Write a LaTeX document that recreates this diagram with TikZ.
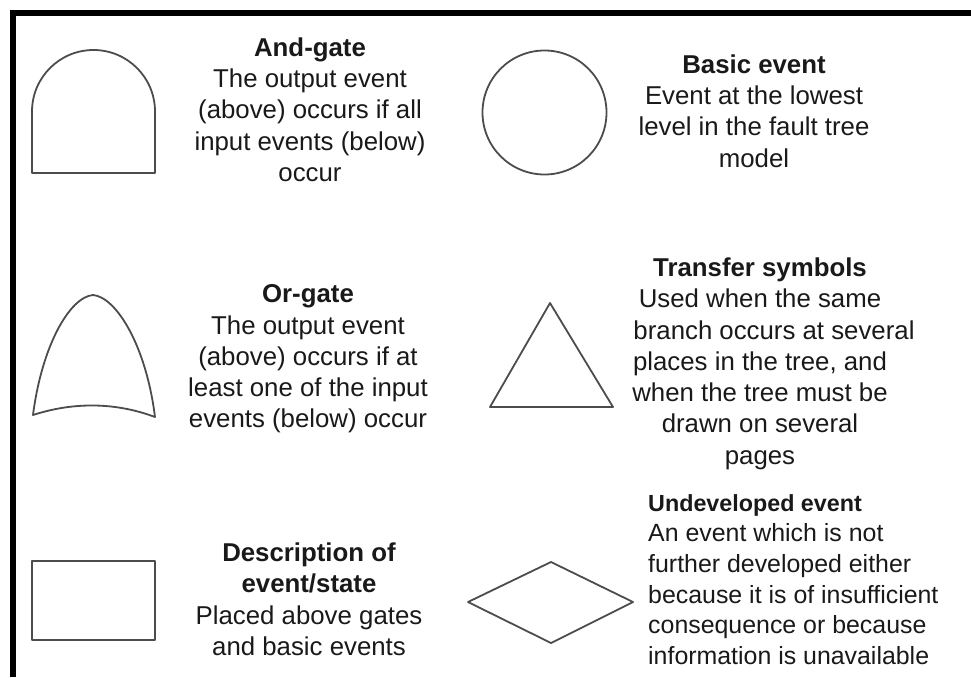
\documentclass[tikz,border=0pt]{standalone}
\usepackage{fontspec}
\setmainfont{Liberation Sans}
\begin{document}
\begin{tikzpicture}[x=1pt,y=-1pt,
  symbol/.style={draw=black!70,line width=1.8pt,line join=round},
  frameline/.style={draw=black,line width=6pt,line join=miter},
  desc/.style={inner sep=0pt,anchor=north,align=center,text=black!90,
    font=\fontsize{25.8}{31.3}\selectfont},
  descleft/.style={inner sep=0pt,anchor=north west,align=left,text=black!90,
    font=\fontsize{24.9}{30.7}\selectfont}]
\path[use as bounding box] (0,0) rectangle (971,677);

% frame (top and left edges)
\draw[frameline] (13,677) -- (13,13) -- (971,13);

% And-gate symbol
\draw[symbol] (32,173) -- (32,111.5) arc[start angle=180,end angle=360,radius=61.5] -- (155,173) -- cycle;
\node[desc] (andtxt) at (310,37.5) {\textbf{And-gate}\\The output event\\(above) occurs if all\\input events (below)\\occur};

% Basic event symbol
\node[symbol,circle,minimum size=124pt,inner sep=0pt] (basic) at (544.5,112.5) {};
\node[desc] (basictxt) at (754,54.5) {\textbf{Basic event}\\Event at the lowest\\level in the fault tree\\model};

% Or-gate symbol
\draw[symbol] (33,415) .. controls (42,345) and (70,297) .. (93,295)
  .. controls (116,297) and (146,345) .. (155,417)
  .. controls (115,402) and (73,402) .. cycle;
\node[desc] (ortxt) at (308,284.5) {\textbf{Or-gate}\\The output event\\(above) occurs if at\\least one of the input\\events (below) occur};

% Transfer symbol
\draw[symbol] (550,303) -- (613,407) -- (490,407) -- cycle;
\node[desc] (transtxt) at (760,257.5) {\textbf{Transfer symbols}\\Used when the same\\\hspace*{28pt}branch occurs at several\\places in the tree, and\\when the tree must be\\drawn on several\\pages};

% Description of event/state
\draw[symbol] (32,561) rectangle (155,640);
\node[desc] (desctxt) at (309,542.5) {\textbf{Description of}\\\textbf{event/state}\\Placed above gates\\and basic events};

% Undeveloped event
\draw[symbol] (468,602) -- (551,562) -- (633,602) -- (551,643) -- cycle;
\node[descleft] (undevtxt) at (648,494) {{\fontsize{23.3}{30.7}\selectfont\textbf{Undeveloped event}}\\An event which is not\\further developed either\\because it is of insufficient\\consequence or because\\information is unavailable};
\end{tikzpicture}
\end{document}
